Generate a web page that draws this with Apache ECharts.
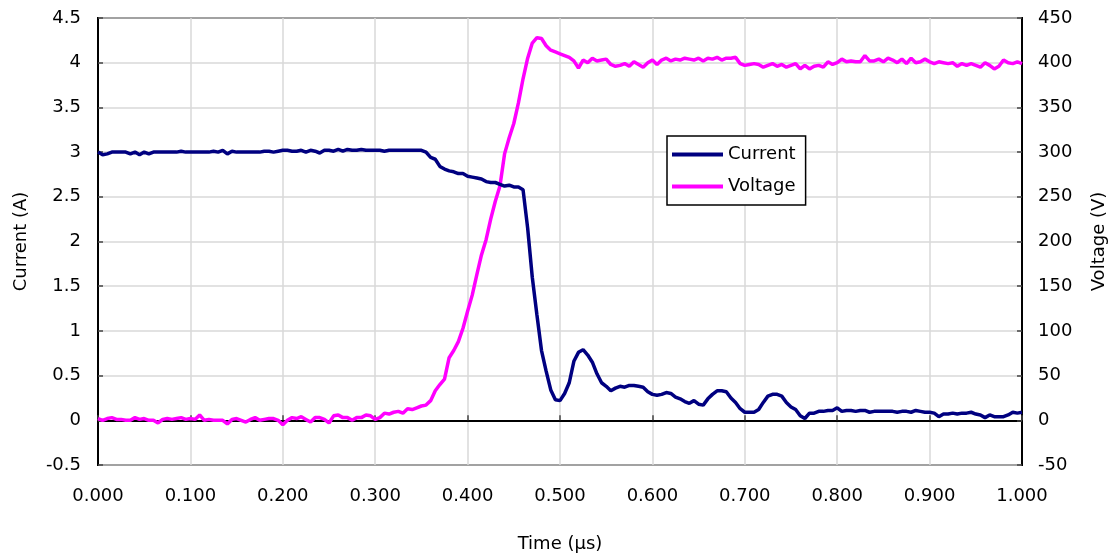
<!DOCTYPE html>
<html>
<head>
<meta charset="utf-8">
<script src="https://cdn.jsdelivr.net/npm/echarts@6/dist/echarts.min.js"></script>
<style>html,body{margin:0;padding:0;background:#fff;}#c{width:1116px;height:558px;}</style>
</head>
<body>
<div id="c"></div>
<script>
// sampling step of the time axis (µs)
const STEP = 0.005;
const SAMPLES = 201;
const xTicks = ['0.000','0.100','0.200','0.300','0.400','0.500','0.600','0.700','0.800','0.900','1.000'];

const current = [
3.00,2.97,2.98,3.00,3.00,3.00,3.00,2.98,3.00,2.97,
3.00,2.98,3.00,3.00,3.00,3.00,3.00,3.00,3.01,3.00,
3.00,3.00,3.00,3.00,3.00,3.01,3.00,3.02,2.98,3.01,
3.00,3.00,3.00,3.00,3.00,3.00,3.01,3.01,3.00,3.01,
3.02,3.02,3.01,3.01,3.02,3.00,3.02,3.01,2.99,3.02,
3.02,3.01,3.03,3.01,3.03,3.02,3.02,3.03,3.02,3.02,
3.02,3.02,3.01,3.02,3.02,3.02,3.02,3.02,3.02,3.02,
3.02,3.00,2.94,2.92,2.84,2.81,2.79,2.78,2.76,2.76,
2.73,2.72,2.71,2.70,2.67,2.66,2.66,2.64,2.62,2.63,
2.61,2.61,2.58,2.15,1.60,1.18,0.78,0.55,0.34,0.23,
0.22,0.30,0.42,0.66,0.76,0.79,0.73,0.65,0.52,0.42,
0.38,0.33,0.36,0.38,0.37,0.39,0.39,0.38,0.37,0.32,
0.29,0.28,0.29,0.31,0.30,0.26,0.24,0.21,0.19,0.22,
0.18,0.17,0.24,0.29,0.33,0.33,0.32,0.25,0.20,0.13,
0.09,0.09,0.09,0.12,0.20,0.27,0.29,0.29,0.27,0.20,
0.15,0.12,0.05,0.02,0.08,0.08,0.10,0.10,0.11,0.11,
0.14,0.10,0.11,0.11,0.10,0.11,0.11,0.09,0.10,0.10,
0.10,0.10,0.10,0.09,0.10,0.10,0.09,0.11,0.10,0.09,
0.09,0.08,0.04,0.07,0.07,0.08,0.07,0.08,0.08,0.09,
0.07,0.06,0.03,0.06,0.04,0.04,0.04,0.06,0.09,0.08,
0.09
];

const voltage = [
2,0,2,3,1,1,0,0,3,1,
2,0,0,-3,1,2,1,2,3,1,
2,1,6,0,1,0,0,0,-4,1,
2,0,-2,1,3,0,1,2,2,0,
-5,0,3,2,4,1,-2,3,3,1,
-3,5,6,3,3,0,3,3,6,5,
1,3,8,7,9,10,8,13,12,14,
16,17,22,33,40,46,70,78,88,103,
122,140,163,185,202,225,245,262,298,316,
332,355,382,405,422,428,427,419,414,412,
410,408,406,402,394,403,400,405,402,403,
404,398,396,397,399,396,401,398,395,400,
403,398,403,405,402,404,403,405,404,403,
405,402,405,404,406,403,405,405,406,399,
397,398,399,398,395,397,399,396,398,395,
397,399,393,397,393,396,397,395,401,398,
400,404,401,402,401,401,408,402,402,404,
401,405,403,400,404,399,405,400,401,404,
401,399,401,400,399,400,396,399,397,399,
397,395,400,397,393,396,403,400,399,401,
399
];

const times = [];
for (let i = 0; i < SAMPLES; i++) times.push(+(i * STEP).toFixed(3));
const curData = times.map((t, i) => [t, current[i]]);
const volData = times.map((t, i) => [t, voltage[i]]);

const FONT = 'DejaVu Sans';
const chart = echarts.init(document.getElementById('c'), null, {renderer: 'canvas'});
chart.setOption({
  animation: false,
  backgroundColor: '#fff',
  textStyle: {fontFamily: FONT, color: '#000'},
  grid: {left: 98, right: 94, top: 18, bottom: 85, show: true, borderColor: '#000', borderWidth: 2, backgroundColor: 'transparent'},
  legend: {
    orient: 'vertical', left: 667, top: 136,
    backgroundColor: '#fff', borderColor: '#000', borderWidth: 1.5,
    padding: [8, 10, 8, 5], itemGap: 11, itemWidth: 51, itemHeight: 4,
    icon: 'rect',
    textStyle: {fontFamily: FONT, fontSize: 18, color: '#000', lineHeight: 21},
    data: ['Current', 'Voltage']
  },
  xAxis: {
    type: 'value', min: 0, max: 1, interval: 0.1,
    name: 'Time (µs)', nameLocation: 'middle', nameGap: 70,
    nameTextStyle: {fontFamily: FONT, fontSize: 18, color: '#000'},
    axisLine: {show: true, lineStyle: {color: '#000', width: 2}},
    axisTick: {show: true, inside: true, length: 5, lineStyle: {color: '#444', width: 1.5}},
    axisLabel: {fontFamily: FONT, fontSize: 18, color: '#000', margin: 22,
      formatter: v => xTicks[Math.round(v * 10)] || v.toFixed(3)},
    splitLine: {show: true, lineStyle: {color: '#d9d9d9', width: 1.5}}
  },
  yAxis: [{
    type: 'value', min: -0.5, max: 4.5, interval: 0.5,
    name: 'Current (A)', nameLocation: 'middle', nameGap: 68, nameRotate: 90,
    nameTextStyle: {fontFamily: FONT, fontSize: 18, color: '#000'},
    axisLine: {show: true, lineStyle: {color: '#000', width: 2}},
    axisTick: {show: true, inside: true, length: 5, lineStyle: {color: '#444', width: 1.5}},
    axisLabel: {fontFamily: FONT, fontSize: 18, color: '#000', margin: 17},
    splitLine: {show: true, lineStyle: {color: '#d9d9d9', width: 1.5}}
  }, {
    type: 'value', min: -50, max: 450, interval: 50, position: 'right',
    name: 'Voltage (V)', nameLocation: 'middle', nameGap: 68, nameRotate: 90,
    nameTextStyle: {fontFamily: FONT, fontSize: 18, color: '#000'},
    axisLine: {show: true, lineStyle: {color: '#000', width: 2}},
    axisTick: {show: true, inside: true, length: 5, lineStyle: {color: '#444', width: 1.5}},
    axisLabel: {fontFamily: FONT, fontSize: 18, color: '#000', margin: 16},
    splitLine: {show: false}
  }],
  series: [{
    name: 'Current', type: 'line', yAxisIndex: 0, data: curData,
    symbol: 'none', lineStyle: {color: '#000080', width: 3.5}, itemStyle: {color: '#000080'}, z: 3
  }, {
    name: 'Voltage', type: 'line', yAxisIndex: 1, data: volData,
    symbol: 'none', lineStyle: {color: '#ff00ff', width: 3.5}, itemStyle: {color: '#ff00ff'}, z: 2
  }]
});
</script>
</body>
</html>
